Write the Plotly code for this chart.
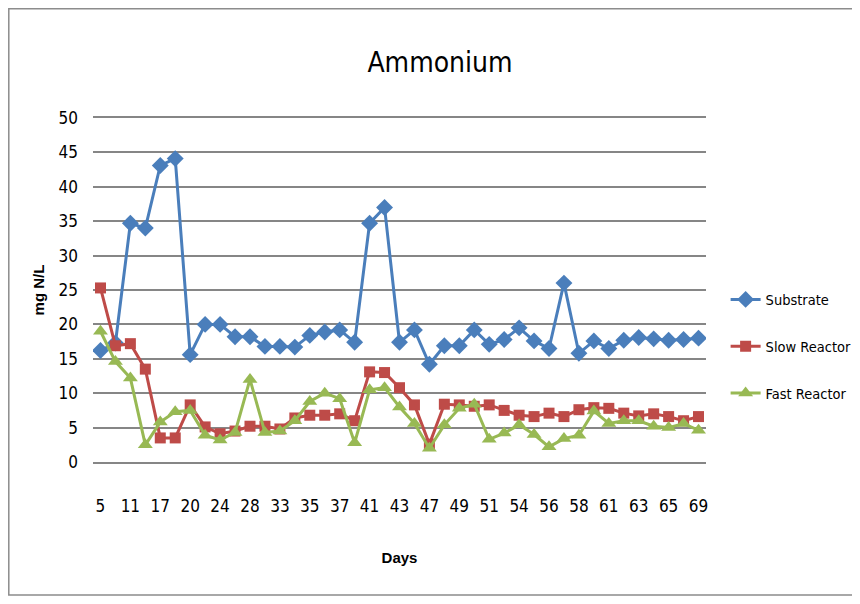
import plotly.graph_objects as go

days = ["5", "8", "11", "14", "17", "19", "20", "22", "24", "26",
        "28", "31", "33", "34", "35", "36", "37", "40", "41", "42",
        "43", "45", "47", "48", "49", "50", "51", "53", "54", "55",
        "56", "57", "58", "60", "61", "62", "63", "64", "65", "67", "69"]

substrate = [16.2, 17.3, 34.7, 34.0, 43.1, 44.1, 15.6, 20.0, 20.0, 18.2,
             18.2, 16.8, 16.8, 16.7, 18.4, 18.9, 19.2, 17.4, 34.7, 37.0,
             17.4, 19.2, 14.2, 16.9, 16.9, 19.2, 17.1, 17.8, 19.5, 17.6,
             16.5, 26.0, 15.8, 17.6, 16.5, 17.7, 18.1, 17.9, 17.7, 17.8, 18.0]

slow_reactor = [25.3, 16.9, 17.2, 13.5, 3.5, 3.5, 8.3, 5.1, 4.1, 4.5,
                5.2, 5.2, 4.8, 6.4, 6.8, 6.8, 7.0, 6.0, 13.1, 13.0,
                10.8, 8.3, 2.6, 8.4, 8.3, 8.1, 8.3, 7.5, 6.8, 6.6,
                7.1, 6.6, 7.6, 7.9, 7.8, 7.1, 6.7, 7.0, 6.6, 6.0, 6.6]

fast_reactor = [19.0, 14.6, 12.2, 2.5, 5.8, 7.3, 7.5, 3.9, 3.2, 4.3,
                12.0, 4.3, 4.5, 6.0, 8.8, 10.0, 9.2, 2.8, 10.5, 10.8,
                8.0, 5.6, 2.0, 5.4, 7.8, 8.4, 3.3, 4.2, 5.4, 4.0,
                2.2, 3.4, 3.9, 7.4, 5.6, 6.0, 6.0, 5.2, 5.0, 5.6, 4.6]

tick_days = days[::2]

FONT = "DejaVu Sans Condensed, Liberation Sans, sans-serif"
BOLD = "Liberation Sans, Arial, sans-serif"

# the page body adds an 8px offset; figure sized so it fits the window
W, H = 844, 588
L, T, PW, PH = 85, 110, 613, 344

fig = go.Figure()
fig.add_trace(go.Scatter(
    x=days, y=substrate, name="Substrate", mode="lines+markers", legendgroup="a",
    line=dict(color="#4A7EBB", width=3),
    marker=dict(symbol="diamond", size=13, color="#4A7EBB"),
))
fig.add_trace(go.Scatter(
    x=days, y=slow_reactor, name="Slow Reactor", mode="lines+markers", legendgroup="b",
    line=dict(color="#BE4B48", width=3),
    marker=dict(symbol="square", size=11, color="#BE4B48"),
))
fig.add_trace(go.Scatter(
    x=days, y=fast_reactor, name="Fast Reactor", mode="lines+markers", legendgroup="c",
    line=dict(color="#98B954", width=3),
    marker=dict(symbol="triangle-up", size=13, color="#98B954"),
))

fig.update_layout(
    width=W, height=H,
    paper_bgcolor="white", plot_bgcolor="white",
    margin=dict(l=L, r=W - L - PW, t=T, b=H - T - PH, autoexpand=False),
    title=dict(text="Ammonium", x=432 / W, xanchor="center", y=1 - 54 / H, yanchor="middle",
               font=dict(family=FONT, size=28, color="black")),
    font=dict(family=FONT, color="black"),
    legend=dict(x=1.032, xanchor="left", y=0.519, yanchor="top",
                font=dict(family=FONT, size=14.5, color="black"),
                tracegroupgap=25, itemwidth=30,
                bgcolor="rgba(0,0,0,0)"),
    xaxis=dict(
        type="category", categoryorder="array", categoryarray=days,
        range=[-0.5, len(days) - 0.5], automargin=False,
        tickmode="array", tickvals=tick_days, ticktext=tick_days,
        showgrid=False, showline=True, mirror=True, linecolor="#868686", linewidth=1.5,
        zeroline=False, ticks="", ticklabelstandoff=28,
        tickfont=dict(family=FONT, size=17, color="black"),
        title=dict(text="<b>Days</b>", font=dict(family=BOLD, size=15, color="black"), standoff=37),
    ),
    yaxis=dict(
        range=[0, 50], tickmode="array", tickvals=list(range(0, 51, 5)),
        showgrid=True, gridcolor="#868686", gridwidth=1.5, automargin=False,
        zeroline=False, showline=False, ticks="",
        ticklabelstandoff=14,
        tickfont=dict(family=FONT, size=17, color="black"),
        title=dict(text="<b>mg N/L</b>", font=dict(family=BOLD, size=15, color="black"), standoff=10),
    ),
)

# outer chart border
fig.add_shape(type="rect", xref="paper", yref="paper",
              x0=(0.8 - L) / PW, x1=1 + (W - L - PW + 20) / PW,
              y0=-(H - 1 - T - PH) / PH, y1=1 + (T - 0.8) / PH,
              line=dict(color="#8C8C8C", width=1.5), layer="below")

fig.write_html("out.html")
